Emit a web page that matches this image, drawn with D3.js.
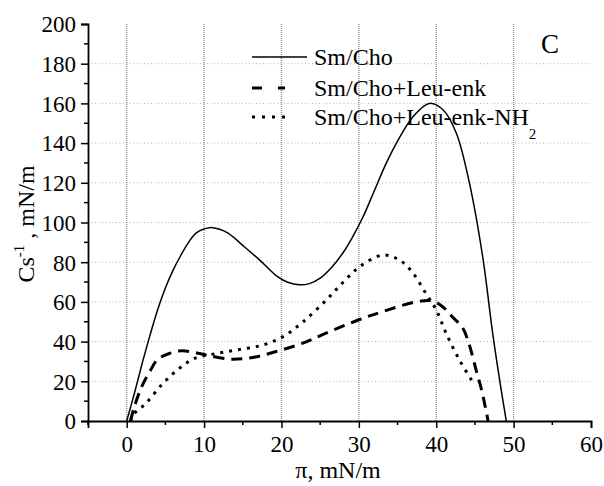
<!DOCTYPE html>
<html>
<head>
<meta charset="utf-8">
<script src="https://cdn.jsdelivr.net/npm/d3@7"></script>
<style>
  html, body { margin: 0; padding: 0; background: #fff; }
  svg { display: block; }
  svg text { font-family: "Liberation Serif", "Times New Roman", Tinos, "DejaVu Serif", serif; fill: #000; }
</style>
</head>
<body>
<svg id="chart" width="604" height="486"></svg>
<script>
// Compressional modulus vs surface pressure
const smCho = [[0,0],[1,14],[2,29],[3,43],[4,56],[5,67],[6,76],[7,83.5],[8,90],[9,94.8],
  [10.7,97.4],[12,96.6],[13.1,94.6],[15.2,87.8],[17.4,80.3],[19.5,72.7],[20.8,69.9],
  [22.3,68.6],[23.6,69.2],[25,72],[26.5,77.5],[28,85],[29.2,92.8],[30.5,102.5],
  [32,116],[33.5,129.5],[35,141],[37,153.3],[39.1,160],[40.9,156.7],
  [42.6,145],[44.3,119.7],[46,82.8],[47.3,44],[48.3,18],[49.05,0]];
const smChoLeu = [[0.5,0],[0.9,6],[1.9,17],[3,25],[4,31],[5.5,34],[7.1,35.4],[8.8,34.5],
  [10.3,33.2],[13.3,31.2],[16.3,32],[19.3,35],[22.6,39],[25.6,44],[30,51],[33,55],
  [37.4,60],[39.5,60.5],[41,57],[42.1,52.4],[43.4,47],[44.3,38],[45.2,25],[45.9,15],
  [46.5,4],[46.7,0]];
const smChoLeuNH2 = [[0.5,0],[0.8,3],[2.5,9],[4.7,19],[6.8,26.5],[8.8,31.6],[11.6,34],
  [14.6,36],[17.6,38.3],[20.2,42.5],[22.8,50],[25.8,61],[28,70],[30.1,77.7],[33.1,83.6],
  [35.3,81],[37,74.5],[38.7,64],[40,56],[41.3,44],[43,30.7],[44.7,19.8]];

const xTicks = [0,10,20,30,40,50,60];
const yTicks = [0,20,40,60,80,100,120,140,160,180,200];
const xGrid = [0,10,20,30,40,50];
const yGrid = [20,40,60,80,100,120,140,160,180];
const seriesNames = ["Sm/Cho", "Sm/Cho+Leu-enk", "Sm/Cho+Leu-enk-NH"];

const FONT = "'Liberation Serif', 'Times New Roman', Tinos, 'DejaVu Serif', serif";
const svg = d3.select("#chart");
const x = d3.scaleLinear().domain([-5, 60]).range([88, 591]);
const y = d3.scaleLinear().domain([0, 200]).range([421, 24]);

// grid
svg.append("g").selectAll("line").data(yGrid).join("line")
  .attr("x1", x(-5)).attr("x2", x(60))
  .attr("y1", d => y(d)).attr("y2", d => y(d))
  .attr("stroke", "#b0b0b0").attr("stroke-width", 1)
  .attr("stroke-dasharray", "1,2.5");
svg.append("g").selectAll("line").data(xGrid).join("line")
  .attr("x1", d => x(d)).attr("x2", d => x(d))
  .attr("y1", y(200)).attr("y2", y(0))
  .attr("stroke", "#8a8a8a").attr("stroke-width", 1.3)
  .attr("stroke-dasharray", "1,1");

// axes
const xAxis = d3.axisBottom(x).tickValues(xTicks).tickSize(7).tickPadding(6).tickFormat(d3.format("d"));
const gx = svg.append("g").attr("transform", `translate(0,${y(0)})`).call(xAxis);
gx.append("g").selectAll("line").data([-5,5,15,25,35,45,55]).join("line")
  .attr("x1", d => x(d)).attr("x2", d => x(d)).attr("y1", 0).attr("y2", 4)
  .attr("stroke", "#000").attr("stroke-width", 1.5);

const yAxis = d3.axisLeft(y).tickValues(yTicks).tickSize(7).tickPadding(5).tickFormat(d3.format("d"));
const gy = svg.append("g").attr("transform", `translate(${x(-5)},0)`).call(yAxis);
gy.append("g").selectAll("line").data(d3.range(10, 200, 20)).join("line")
  .attr("x1", 0).attr("x2", -4).attr("y1", d => y(d)).attr("y2", d => y(d))
  .attr("stroke", "#000").attr("stroke-width", 1.5);

[gx, gy].forEach(g => {
  g.attr("font-family", FONT).attr("font-size", 23);
  g.select(".domain").attr("stroke-width", 1.8).attr("stroke", "#000");
  g.selectAll(".tick line").attr("stroke-width", 1.5).attr("stroke", "#000");
  g.selectAll(".tick text").attr("font-size", 23).attr("font-family", FONT).attr("fill", "#000");
});
gx.selectAll(".tick text").attr("dy", "0.78em");
gy.selectAll(".tick text").attr("dy", "0.34em");

// curves
const line = d3.line().x(d => x(d[0])).y(d => y(d[1])).curve(d3.curveCatmullRom.alpha(0.5));
svg.append("path").datum(smCho).attr("d", line)
  .attr("fill", "none").attr("stroke", "#000").attr("stroke-width", 1.5);
svg.append("path").datum(smChoLeu).attr("d", line)
  .attr("fill", "none").attr("stroke", "#000").attr("stroke-width", 3)
  .attr("stroke-dasharray", "11,7");
svg.append("path").datum(smChoLeuNH2).attr("d", line)
  .attr("fill", "none").attr("stroke", "#000").attr("stroke-width", 3)
  .attr("stroke-dasharray", "3,6");

// legend
const leg = svg.append("g").attr("font-family", FONT);
const rows = [
  {y: 57, dash: null, w: 1.5, len: 55},
  {y: 88, dash: "10,16", w: 3, len: 33},
  {y: 117, dash: "3,7", w: 3, len: 34}
];
rows.forEach((r, i) => {
  leg.append("line").attr("x1", 252).attr("x2", 252 + r.len)
    .attr("y1", r.y).attr("y2", r.y)
    .attr("stroke", "#000").attr("stroke-width", r.w)
    .attr("stroke-dasharray", r.dash);
  const t = leg.append("text").attr("x", 314).attr("y", r.y + 8).attr("font-size", 24)
    .text(seriesNames[i]);
  if (i === 2) t.append("tspan").attr("font-size", 15).attr("dy", 14).text("2");
});

svg.append("text").attr("x", 541).attr("y", 53).attr("font-size", 27)
  .attr("font-family", FONT).text("C");

// axis titles
svg.append("text").attr("x", 338).attr("y", 478).attr("text-anchor", "middle")
  .attr("font-family", FONT).attr("font-size", 24).text("π, mN/m");
const yt = svg.append("text").attr("transform", "translate(34,224) rotate(-90)")
  .attr("text-anchor", "middle").attr("font-family", FONT).attr("font-size", 24);
yt.append("tspan").text("Cs");
yt.append("tspan").attr("font-size", 15).attr("dy", -10).text("-1");
yt.append("tspan").attr("dy", 10).text(" , mN/m");
</script>
</body>
</html>
